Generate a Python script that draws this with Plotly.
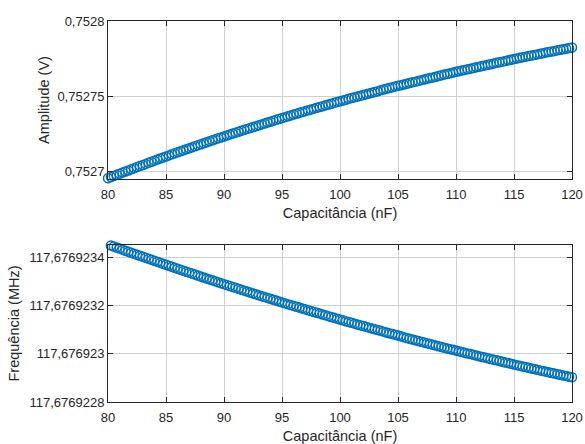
import plotly.graph_objects as go

capacitance_nF = [80 + 0.25 * i for i in range(161)]

amplitude_V = [
    0.7526955, 0.75269625, 0.7526970, 0.75269775, 0.7526985, 0.75269925, 0.7527000, 0.7527007, 0.7527014, 0.75270215,
    0.7527029, 0.7527036, 0.7527043, 0.75270505, 0.7527058, 0.7527065, 0.7527072, 0.7527079, 0.7527086, 0.7527093,
    0.7527100, 0.7527107, 0.7527114, 0.75271205, 0.7527127, 0.7527134, 0.7527141, 0.75271475, 0.7527154, 0.7527161,
    0.7527168, 0.75271745, 0.7527181, 0.75271875, 0.7527194, 0.75272005, 0.7527207, 0.75272135, 0.7527220, 0.75272265,
    0.7527233, 0.75272395, 0.7527246, 0.7527252, 0.7527258, 0.75272645, 0.7527271, 0.7527277, 0.7527283, 0.7527289,
    0.7527295, 0.7527301, 0.7527307, 0.7527313, 0.7527319, 0.7527325, 0.7527331, 0.7527337, 0.7527343, 0.7527349,
    0.7527355, 0.7527361, 0.7527367, 0.75273725, 0.7527378, 0.7527384, 0.7527390, 0.75273955, 0.7527401, 0.75274065,
    0.7527412, 0.75274175, 0.7527423, 0.75274285, 0.7527434, 0.75274395, 0.7527445, 0.75274505, 0.7527456, 0.75274615,
    0.7527467, 0.7527472, 0.7527477, 0.75274825, 0.7527488, 0.7527493, 0.7527498, 0.7527503, 0.7527508, 0.7527513,
    0.7527518, 0.7527523, 0.7527528, 0.75275335, 0.7527539, 0.7527544, 0.7527549, 0.7527554, 0.7527559, 0.7527564,
    0.7527569, 0.75275735, 0.7527578, 0.7527583, 0.7527588, 0.75275925, 0.7527597, 0.7527602, 0.7527607, 0.75276115,
    0.7527616, 0.75276205, 0.7527625, 0.75276295, 0.7527634, 0.7527639, 0.7527644, 0.75276485, 0.7527653, 0.75276575,
    0.7527662, 0.75276665, 0.7527671, 0.7527675, 0.7527679, 0.75276835, 0.7527688, 0.7527692, 0.7527696, 0.75277005,
    0.7527705, 0.7527709, 0.7527713, 0.75277175, 0.7527722, 0.7527726, 0.7527730, 0.75277345, 0.7527739, 0.7527743,
    0.7527747, 0.7527751, 0.7527755, 0.7527759, 0.7527763, 0.7527767, 0.7527771, 0.75277745, 0.7527778, 0.7527782,
    0.7527786, 0.7527790, 0.7527794, 0.75277975, 0.7527801, 0.7527805, 0.7527809, 0.75278125, 0.7527816, 0.7527820,
    0.7527824,
]

frequency_MHz = [
    117.6769234524, 117.6769234480, 117.6769234437, 117.6769234394, 117.6769234351, 117.6769234308, 117.6769234265, 117.6769234222, 117.6769234180, 117.6769234137,
    117.6769234095, 117.6769234052, 117.6769234010, 117.6769233968, 117.6769233926, 117.6769233884, 117.6769233843, 117.6769233802, 117.6769233761, 117.6769233720,
    117.6769233679, 117.6769233638, 117.6769233597, 117.6769233556, 117.6769233516, 117.6769233475, 117.6769233435, 117.6769233395, 117.6769233355, 117.6769233315,
    117.6769233275, 117.6769233235, 117.6769233195, 117.6769233155, 117.6769233116, 117.6769233076, 117.6769233037, 117.6769232997, 117.6769232958, 117.6769232918,
    117.6769232879, 117.6769232840, 117.6769232802, 117.6769232763, 117.6769232725, 117.6769232686, 117.6769232648, 117.6769232610, 117.6769232572, 117.6769232534,
    117.6769232496, 117.6769232458, 117.6769232421, 117.6769232383, 117.6769232346, 117.6769232309, 117.6769232272, 117.6769232235, 117.6769232198, 117.6769232161,
    117.6769232124, 117.6769232087, 117.6769232051, 117.6769232015, 117.6769231979, 117.6769231943, 117.6769231907, 117.6769231871, 117.6769231836, 117.6769231800,
    117.6769231765, 117.6769231729, 117.6769231694, 117.6769231659, 117.6769231624, 117.6769231589, 117.6769231554, 117.6769231519, 117.6769231484, 117.6769231449,
    117.6769231414, 117.6769231380, 117.6769231346, 117.6769231312, 117.6769231278, 117.6769231244, 117.6769231211, 117.6769231177, 117.6769231144, 117.6769231111,
    117.6769231078, 117.6769231045, 117.6769231012, 117.6769230979, 117.6769230946, 117.6769230913, 117.6769230880, 117.6769230847, 117.6769230815, 117.6769230782,
    117.6769230749, 117.6769230717, 117.6769230685, 117.6769230653, 117.6769230621, 117.6769230589, 117.6769230558, 117.6769230526, 117.6769230495, 117.6769230463,
    117.6769230432, 117.6769230401, 117.6769230370, 117.6769230339, 117.6769230308, 117.6769230277, 117.6769230247, 117.6769230217, 117.6769230188, 117.6769230158,
    117.6769230129, 117.6769230099, 117.6769230070, 117.6769230040, 117.6769230011, 117.6769229982, 117.6769229953, 117.6769229924, 117.6769229895, 117.6769229866,
    117.6769229838, 117.6769229809, 117.6769229781, 117.6769229752, 117.6769229724, 117.6769229695, 117.6769229667, 117.6769229638, 117.6769229610, 117.6769229582,
    117.6769229554, 117.6769229526, 117.6769229499, 117.6769229471, 117.6769229444, 117.6769229417, 117.6769229390, 117.6769229363, 117.6769229336, 117.6769229309,
    117.6769229283, 117.6769229256, 117.6769229230, 117.6769229203, 117.6769229177, 117.6769229151, 117.6769229125, 117.6769229099, 117.6769229073, 117.6769229047,
    117.6769229022,
]

x_ticks = [80, 85, 90, 95, 100, 105, 110, 115, 120]
x_ticktext = ["80", "85", "90", "95", "100", "105", "110", "115", "120"]
amp_ticks = [0.7527, 0.75275, 0.7528]
amp_ticktext = ["0,7527", "0,75275", "0,7528"]
freq_ticks = [117.6769228, 117.676923, 117.6769232, 117.6769234]
freq_ticktext = ["117,6769228", "117,676923", "117,6769232", "117,6769234"]

x_title = "Capacitância (nF)"
amp_title = "Amplitude (V)"
freq_title = "Frequência (MHz)"

blue = "#0072BD"
txt = "#262626"
font = "Liberation Sans, Arial, sans-serif"

fig = go.Figure()
marker = dict(symbol="circle-open", size=9, color=blue, line=dict(width=1.5, color=blue))
fig.add_trace(go.Scatter(x=capacitance_nF, y=amplitude_V, mode="markers", marker=marker,
                         cliponaxis=False, xaxis="x", yaxis="y", showlegend=False))
fig.add_trace(go.Scatter(x=capacitance_nF, y=frequency_MHz, mode="markers", marker=marker,
                         cliponaxis=False, xaxis="x2", yaxis="y2", showlegend=False))

axis_common = dict(
    showline=True, linecolor="#262626", linewidth=1, mirror="ticks",
    ticks="inside", ticklen=5, tickcolor="#262626", tickwidth=1,
    showgrid=True, gridcolor="#d0d0d0", gridwidth=1, zeroline=False,
    tickfont=dict(family=font, size=13, color=txt), automargin=False,
)
title_font = dict(family=font, size=14.5, color=txt)

fig.update_layout(
    width=585, height=444,
    margin=dict(l=108, r=13, t=21, b=42),
    paper_bgcolor="white", plot_bgcolor="white",
    font=dict(family=font, size=13, color=txt),
    hovermode=False,
    xaxis=dict(domain=[0, 1], anchor="y", range=[80, 120], tickvals=x_ticks, ticktext=x_ticktext,
               ticklabelstandoff=3,
               title=dict(text=x_title, font=title_font, standoff=7), **axis_common),
    yaxis=dict(domain=[0.5853, 1], anchor="x", range=[0.752695, 0.7528], tickvals=amp_ticks, ticktext=amp_ticktext,
               title=dict(text=amp_title, font=title_font, standoff=4), **axis_common),
    xaxis2=dict(domain=[0, 1], anchor="y2", range=[80, 120], tickvals=x_ticks, ticktext=x_ticktext,
                ticklabelstandoff=3,
                title=dict(text=x_title, font=title_font, standoff=7), **axis_common),
    yaxis2=dict(domain=[0, 0.4121], anchor="x2", range=[117.6769228, 117.67692345], tickvals=freq_ticks,
                ticktext=freq_ticktext,
                title=dict(text=freq_title, font=title_font, standoff=6), **axis_common),
)

# remove the default page margin so the 585x444 figure fills the window exactly
fig.write_html("out.html",
               config={"displayModeBar": False},
               post_script="document.body.style.margin='0';document.body.style.overflow='hidden';")
